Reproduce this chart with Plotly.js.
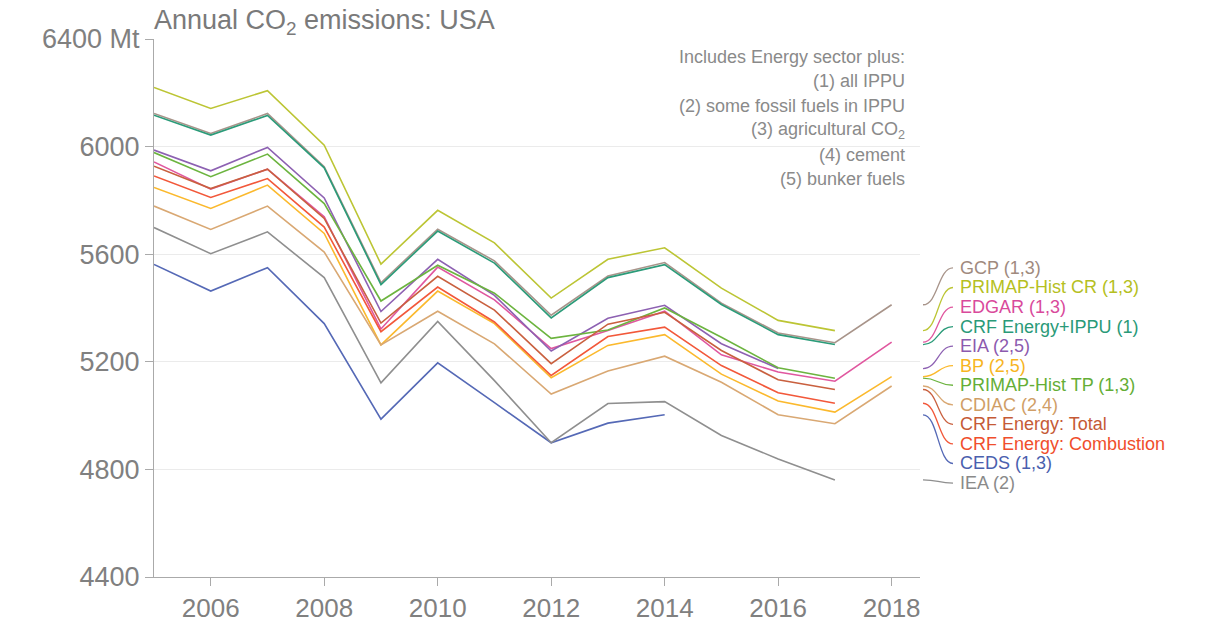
<!DOCTYPE html>
<html>
<head>
<meta charset="utf-8">
<script src="https://cdn.plot.ly/plotly-3.0.1.min.js"></script>
<style>html,body{margin:0;padding:0;background:#fff;}#chart{width:1226px;height:626px;}</style>
</head>
<body>
<div id="chart"></div>
<script>
// ---------- data ----------
const years = [2005,2006,2007,2008,2009,2010,2011,2012,2013,2014,2015,2016,2017,2018];

const seriesNames = ["GCP (1,3)","PRIMAP-Hist CR (1,3)","EDGAR (1,3)","CRF Energy+IPPU (1)","EIA (2,5)","BP (2,5)",
  "PRIMAP-Hist TP (1,3)","CDIAC (2,4)","CRF Energy: Total","CRF Energy: Combustion","CEDS (1,3)","IEA (2)"];

const gcp      = [6123,6049,6123,5925,5494,5693,5575,5373,5519,5569,5418,5307,5271,5412];
const primapCR = [6220,6142,6208,6005,5563,5763,5642,5437,5581,5624,5474,5354,5316,null];
const edgar    = [5943,5842,5916,5739,5322,5552,5430,5249,5316,5388,5226,5162,5128,5273];
const crfIPPU  = [6117,6043,6116,5921,5487,5686,5567,5363,5513,5561,5413,5301,5264,null];
const eia      = [5987,5910,5997,5809,5387,5581,5447,5240,5362,5410,5267,5175,null,null];
const bp       = [5848,5770,5857,5677,5263,5463,5342,5141,5261,5301,5154,5054,5013,5145];
const primapTP = [5978,5888,5972,5788,5426,5559,5455,5287,5318,5400,5291,5178,5139,null];
const cdiac    = [5779,5692,5779,5608,5263,5388,5267,5080,5166,5221,5124,5003,4970,5110];
const crfTotal = [5927,5844,5916,5733,5344,5518,5392,5193,5340,5384,5242,5133,5097,null];
const crfComb  = [5891,5811,5881,5701,5312,5478,5348,5149,5294,5329,5186,5085,5046,null];
const ceds     = [5562,5463,5550,5342,4987,5196,5048,4899,4972,5003,null,null,null,null];
const iea      = [5699,5602,5683,5513,5122,5350,5130,4899,5045,5052,4926,4839,4761,null];

const seriesValues = [gcp,primapCR,edgar,crfIPPU,eia,bp,primapTP,cdiac,crfTotal,crfComb,ceds,iea];
const lineColors  = ["#a8948a","#bcc534","#e0579f","#2b9b79","#8d61b2","#fbb92d","#6cb43f","#d9a873","#c9603f","#f2583a","#5569b6","#8f8f8f"];
const labelColors = ["#a08a7e","#b5bf22","#d94a9b","#2a9a78","#8c5aae","#f7b51f","#64ae36","#d09e66","#c55a36","#f04e2c","#4a60ae","#8a8a8a"];

const xTickVals = [2006,2008,2010,2012,2014,2016,2018];
const yTickVals = [4400,4800,5200,5600,6000,6400];
const yTickText = ["4400","4800","5200","5600","6000","6400 Mt"];

const titleText = "Annual CO<sub>2</sub> emissions: USA";
const noteLines = ["Includes Energy sector plus:","(1) all IPPU","(2) some fossil fuels in IPPU",
  "(3) agricultural CO<sub>2</sub>","(4) cement","(5) bunker fuels"];

// ---------- layout constants ----------
const W = 1226, H = 626;
const ML = 154, MR = 273, MT = 39, MB = 49;
const plotW = W - ML - MR, plotH = H - MT - MB;
const mainRight = 766 / plotW;       // main x-axis domain end
const connLeft = 769 / plotW;        // connector axis domain start
const LABEL_TOP = 5549, LABEL_STEP = 72.7;   // label positions in y units
const labelX = (958 - ML) / plotW;
const font = "Liberation Sans, Arial, Helvetica, sans-serif";

// ---------- traces ----------
const traces = seriesValues.map((vals, i) => ({
  x: years, y: vals, type: "scatter", mode: "lines", name: seriesNames[i],
  line: {color: lineColors[i], width: 1.6}, connectgaps: false, hoverinfo: "x+y+name"
}));
traces.push({x:[0.5], y:[5000], xaxis:"x2", yaxis:"y2", mode:"lines", showlegend:false, hoverinfo:"skip", line:{width:0}});

// ---------- connectors and labels ----------
const shapes = [];
const annotations = [];
seriesValues.forEach((vals, i) => {
  let last = null;
  for (let k = vals.length - 1; k >= 0; k--) { if (vals[k] !== null) { last = vals[k]; break; } }
  const ly = LABEL_TOP - LABEL_STEP * i;
  shapes.push({type:"path", xref:"x2", yref:"y2", layer:"above",
    path:`M 0,${last} C 0.5,${last} 0.5,${ly} 1,${ly}`,
    line:{color: lineColors[i], width: 1.3}});
  annotations.push({xref:"paper", yref:"y", x: labelX, y: ly, xanchor:"left", yanchor:"middle",
    text: seriesNames[i], showarrow:false, font:{family: font, size: 18, color: labelColors[i]}});
});
noteLines.forEach((t, i) => {
  const ypx = 57 + 24.4 * i;
  annotations.push({xref:"paper", yref:"paper", x: (907 - ML) / plotW, y: 1 - (ypx - MT) / plotH,
    xanchor:"right", yanchor:"middle", text: t, showarrow:false,
    font:{family: font, size: 18, color: "#8a8a8a"}});
});

const layout = {
  width: W, height: H,
  margin: {l: ML, r: MR, t: MT, b: MB, pad: 0},
  paper_bgcolor: "#fff", plot_bgcolor: "#fff",
  showlegend: false,
  font: {family: font, color: "#808080"},
  title: {text: titleText, xref: "paper", x: 0, xanchor: "left", yref: "container", y: 1 - 20 / H, yanchor: "middle",
    font: {family: font, size: 27, color: "#7a7a7a"}},
  xaxis: {domain: [0, mainRight], range: [2005, 2018.5], tickvals: xTickVals, ticks: "outside", ticklen: 8,
    tickcolor: "#aaa", showline: true, linecolor: "#aaa", linewidth: 1, showgrid: false, zeroline: false,
    tickfont: {family: font, size: 26, color: "#808080"}, fixedrange: true},
  xaxis2: {domain: [connLeft, 1], range: [0, 1], anchor: "y2", visible: false, showgrid: false, fixedrange: true},
  yaxis: {range: [4400, 6400], tickvals: yTickVals, ticktext: yTickText, ticks: "outside", ticklen: 8,
    tickcolor: "#aaa", showline: true, linecolor: "#aaa", linewidth: 1, showgrid: true, gridcolor: "#ebebeb",
    zeroline: false, tickfont: {family: font, size: 27, color: "#808080"}, fixedrange: true},
  yaxis2: {range: [4400, 6400], anchor: "x2", domain: [0, 1], visible: false, showgrid: false, zeroline: false, fixedrange: true},
  shapes: shapes,
  annotations: annotations
};

Plotly.newPlot("chart", traces, layout, {displayModeBar: false, staticPlot: true});
</script>
</body>
</html>
